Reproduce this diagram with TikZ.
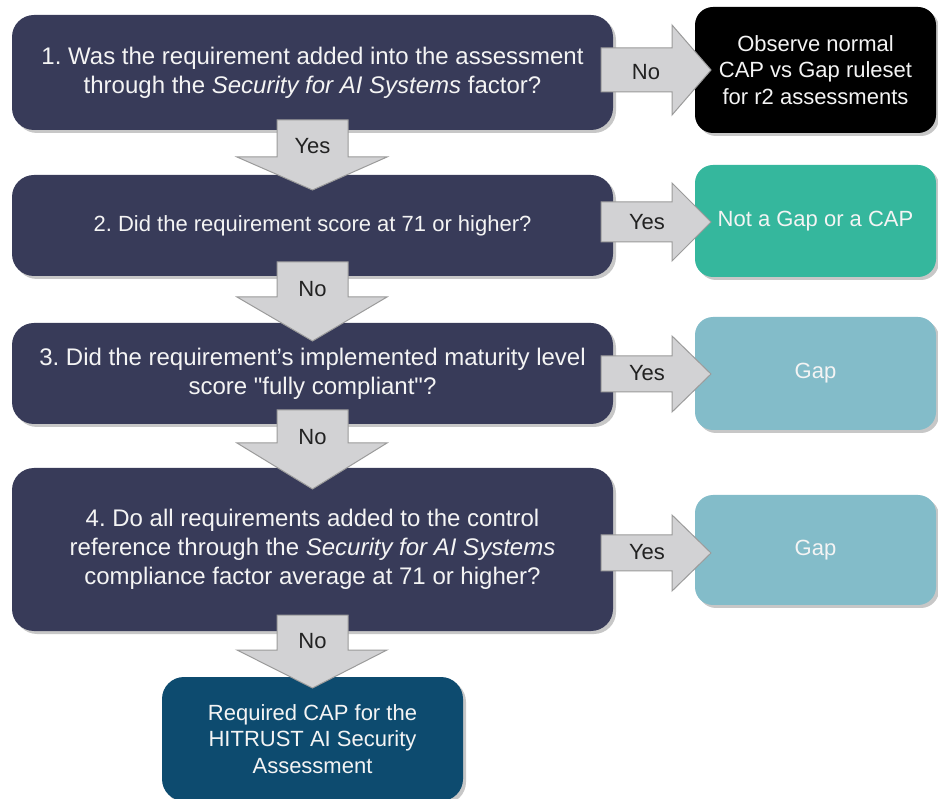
\documentclass[tikz,border=0pt]{standalone}
\usepackage{fontspec}
\setmainfont{Liberation Sans}
\usetikzlibrary{shadows}
\definecolor{navy}{HTML}{383B59}
\definecolor{tealbox}{HTML}{35B79D}
\definecolor{gapbox}{HTML}{83BCC9}
\definecolor{finalbox}{HTML}{0D4B6F}
\definecolor{arrfill}{HTML}{D2D2D4}
\definecolor{arrdraw}{HTML}{9B9B9B}
\definecolor{boxtext}{HTML}{F4F4F4}
\definecolor{lbltext}{HTML}{222222}
\newcommand\RArrow[3]{\path[blockarrow] (601,{#1-#2}) -- (672,{#1-#2}) -- (672,{#1-#3}) -- (711,#1) -- (672,{#1+#3}) -- (672,{#1+#2}) -- (601,{#1+#2}) -- cycle;}
\newcommand\DArrow[3]{\path[blockarrow] (277,#1) -- (348,#1) -- (348,#2) -- (387,#2) -- (312.5,#3) -- (237,#2) -- (277,#2) -- cycle;}
\newcommand\straightquote{\XeTeXglyph\XeTeXcharglyph"22\relax}
\frenchspacing
\begin{document}
\begin{tikzpicture}[x=1pt,y=-1pt,
  boxshadow/.style={drop shadow={shadow xshift=3pt,shadow yshift=-3pt,opacity=0.22,fill=black}},
  qbox/.style={fill=navy,rounded corners=22pt,text=boxtext,align=center,inner sep=0pt,
    font=\fontsize{24}{29}\selectfont,minimum width=601pt,boxshadow},
  rbox/.style={rounded corners=18pt,text=boxtext,align=center,inner sep=0pt,
    font=\fontsize{22}{26.5}\selectfont,minimum width=241pt,boxshadow},
  blockarrow/.style={fill=arrfill,draw=arrdraw,line width=1pt,line join=miter},
  lbl/.style={text=lbltext,font=\fontsize{22}{26}\selectfont,inner sep=0pt}]
\path[fill=white] (0,0) rectangle (938,799);
\useasboundingbox (0,0) rectangle (938,799);
% question boxes
\node[qbox,minimum height=115pt] (q1) at (312.5,72.5)
  {1. Was the requirement added into the assessment\\through the \textit{Security for AI Systems} factor?};
\node[qbox,minimum height=101pt,font=\fontsize{22}{27}\selectfont] (q2) at (312.5,225.5)
  {2. Did the requirement score at 71 or higher?};
\node[qbox,minimum height=101pt] (q3) at (312.5,373.5)
  {3. Did the requirement's implemented maturity level\\score \straightquote fully compliant\straightquote ?};
\node[qbox,minimum height=163pt] (q4) at (312.5,549.5)
  {4. Do all requirements added to the control\\reference through the \textit{Security for AI Systems}\\compliance factor average at 71 or higher?};
\node[rbox,fill=finalbox,minimum width=301pt,minimum height=124pt,rounded corners=22pt] (fin) at (312.5,739)
  {Required CAP for the\\HITRUST AI Security\\Assessment};
% result boxes
\node[rbox,fill=black,minimum height=126pt] (r1) at (815.5,70)
  {Observe normal\\CAP vs Gap ruleset\\for r2 assessments};
\node[rbox,fill=tealbox,minimum height=112pt] (r2) at (815.5,221)
  {Not a Gap or a CAP};
\node[rbox,fill=gapbox,minimum height=113pt] (r3) at (815.5,373.5)
  {Gap};
\node[rbox,fill=gapbox,minimum height=110pt] (r4) at (815.5,550)
  {Gap};
% block arrows
\RArrow{70}{22}{45}
\RArrow{222}{20}{39}
\RArrow{374}{18}{38}
\RArrow{553}{18}{38}
\DArrow{120}{157}{190}
\DArrow{262}{297}{341}
\DArrow{410}{443}{489}
\DArrow{615}{650}{688}
% arrow labels
\node[lbl] (a1) at (646,72) {No};
\node[lbl] (a2) at (647,222) {Yes};
\node[lbl] (a3) at (647,373) {Yes};
\node[lbl] (a4) at (647,552) {Yes};
\node[lbl] (d1) at (312.5,146) {Yes};
\node[lbl] (d2) at (312.5,289) {No};
\node[lbl] (d3) at (312.5,437) {No};
\node[lbl] (d4) at (312.5,641) {No};
\end{tikzpicture}
\end{document}
